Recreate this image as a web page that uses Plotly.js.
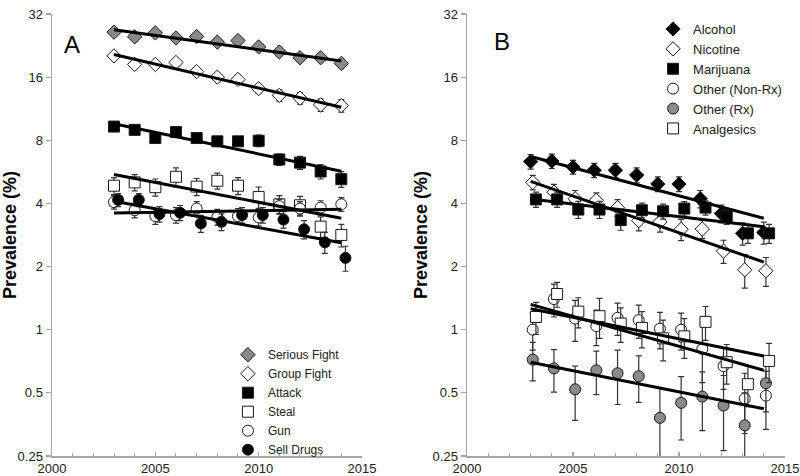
<!DOCTYPE html>
<html>
<head>
<meta charset="utf-8">
<script src="https://cdn.plot.ly/plotly-3.0.1.min.js"></script>
<style>html,body{margin:0;padding:0;background:#fff;}#chart{width:800px;height:476px;}</style>
</head>
<body>
<div id="chart"></div>
<script>
// ---------- data ----------
const years = [2003, 2004, 2005, 2006, 2007, 2008, 2009, 2010, 2011, 2012, 2013, 2014];
const trendYears = [2003, 2014];
const yTicks = [0.25, 0.5, 1, 2, 4, 8, 16, 32];
const yTickText = ['0.25', '0.5', '1', '2', '4', '8', '16', '32'];
const xTicks = [2000, 2005, 2010, 2015];

// Panel A
const namesA = ['Serious Fight', 'Group Fight', 'Attack', 'Steal', 'Gun', 'Sell Drugs'];
const seriousFight = [26.2, 24.9, 26.0, 24.6, 25.0, 23.5, 23.9, 22.3, 21.1, 19.8, 19.8, 18.6];
const groupFight   = [20.2, 18.4, 18.4, 18.8, 17.0, 16.0, 15.6, 14.1, 13.1, 12.7, 11.8, 11.7];
const attack       = [9.3, 8.97, 8.2, 8.75, 8.2, 7.91, 7.91, 7.96, 6.48, 6.26, 5.68, 5.22];
const steal        = [4.86, 5.04, 4.78, 5.36, 4.81, 5.13, 4.86, 4.29, 3.96, 3.92, 3.10, 2.83];
const gun          = [4.06, 3.71, 3.48, 3.52, 3.78, 3.45, 3.48, 3.43, 3.88, 3.78, 3.82, 3.96];
const sellDrugs    = [4.16, 4.16, 3.56, 3.61, 3.21, 3.27, 3.52, 3.52, 3.35, 3.01, 2.61, 2.20];
const seriousFightErr = [0.8, 0.8, 0.8, 0.8, 0.8, 0.8, 0.8, 0.8, 0.8, 0.8, 0.8, 0.8];
const groupFightErr   = [0.6, 0.6, 0.6, 0.7, 0.7, 0.7, 0.7, 0.7, 0.8, 0.8, 0.8, 0.8];
const attackErr       = [0.3, 0.3, 0.35, 0.35, 0.35, 0.35, 0.35, 0.5, 0.4, 0.45, 0.45, 0.45];
const stealErr        = [0.45, 0.45, 0.45, 0.55, 0.45, 0.45, 0.45, 0.5, 0.4, 0.4, 0.35, 0.35];
const gunErr          = [0.3, 0.3, 0.3, 0.3, 0.3, 0.3, 0.3, 0.3, 0.3, 0.3, 0.3, 0.3];
const sellDrugsErr    = [0.3, 0.3, 0.3, 0.3, 0.3, 0.3, 0.3, 0.3, 0.3, 0.3, 0.3, 0.3];
const seriousFightTrend = [26.9, 19.1];
const groupFightTrend   = [20.5, 11.5];
const attackTrend       = [9.6, 5.7];
const stealTrend        = [5.5, 3.4];
const gunTrend          = [3.6, 3.75];
const sellDrugsTrend    = [4.1, 2.6];

// Panel B
const namesB = ['Alcohol', 'Nicotine', 'Marijuana', 'Other (Non-Rx)', 'Other (Rx)', 'Analgesics'];
const alcohol    = [6.33, 6.37, 5.97, 5.76, 5.76, 5.46, 4.95, 4.95, 4.21, 3.58, 2.88, 2.91];
const nicotine   = [5.04, 4.53, 4.21, 4.14, 3.82, 3.31, 3.27, 3.01, 3.02, 2.37, 1.93, 1.91];
const marijuana  = [4.18, 4.18, 3.74, 3.74, 3.33, 3.71, 3.67, 3.78, 3.82, 3.48, 2.88, 2.88];
const otherNonRx = [1.0, 1.40, 1.13, 1.04, 1.14, 1.11, 1.01, 1.0, 0.81, 0.67, 0.47, 0.485];
const otherRx    = [0.72, 0.654, 0.52, 0.64, 0.62, 0.60, 0.38, 0.448, 0.48, 0.435, 0.35, 0.556];
const analgesics = [1.15, 1.48, 1.22, 1.16, 1.07, 1.02, 0.91, 0.93, 1.09, 0.70, 0.55, 0.71];
const alcoholErr    = [0.5, 0.5, 0.45, 0.45, 0.45, 0.45, 0.4, 0.4, 0.4, 0.35, 0.35, 0.35];
const nicotineErr   = [0.4, 0.4, 0.4, 0.35, 0.35, 0.35, 0.35, 0.35, 0.3, 0.3, 0.35, 0.3];
const marijuanaErr  = [0.35, 0.35, 0.35, 0.35, 0.35, 0.3, 0.3, 0.3, 0.3, 0.3, 0.3, 0.3];
const otherNonRxErr = [0.2, 0.25, 0.25, 0.2, 0.2, 0.2, 0.2, 0.2, 0.25, 0.15, 0.15, 0.15];
const otherRxErr    = [0.15, 0.15, 0.15, 0.15, 0.18, 0.15, 0.15, 0.15, 0.15, 0.17, 0.15, 0.15];
const analgesicsErr = [0.2, 0.2, 0.2, 0.25, 0.2, 0.2, 0.2, 0.2, 0.2, 0.15, 0.12, 0.15];
const alcoholTrend    = [6.7, 3.4];
const nicotineTrend   = [5.1, 2.1];
const marijuanaTrend  = [4.2, 3.1];
const otherNonRxTrend = [1.32, 0.64];
const otherRxTrend    = [0.70, 0.42];
const analgesicsTrend = [1.26, 0.75];

// ---------- styling ----------
const AXIS_GRAY = '#a6a6a6';
const FONT = 'Liberation Sans, Arial, sans-serif';

function markerStyle(kind) {
  const s = {
    grayDiamond:  {symbol: 'diamond', color: '#8a8a8a'},
    whiteDiamond: {symbol: 'diamond', color: '#ffffff'},
    blackDiamond: {symbol: 'diamond', color: '#000000'},
    blackSquare:  {symbol: 'square',  color: '#000000'},
    whiteSquare:  {symbol: 'square',  color: '#ffffff'},
    whiteCircle:  {symbol: 'circle',  color: '#ffffff'},
    blackCircle:  {symbol: 'circle',  color: '#000000'},
    grayCircle:   {symbol: 'circle',  color: '#8a8a8a'}
  }[kind];
  return {symbol: s.symbol, color: s.color, size: 11, line: {color: '#1a1a1a', width: 1}};
}

function series(name, vals, errs, kind, xa, ya, legendId, shift) {
  return {
    type: 'scatter', mode: 'markers', name: name,
    x: years.map(v => v + shift), y: vals,
    error_y: {type: 'data', array: errs, visible: true, color: '#333333', thickness: 1.2, width: 3},
    marker: markerStyle(kind),
    xaxis: xa, yaxis: ya, legend: legendId, showlegend: true, hoverinfo: 'x+y+name'
  };
}
function trend(vals, xa, ya) {
  return {
    type: 'scatter', mode: 'lines', x: trendYears, y: vals,
    line: {color: '#000000', width: 3}, xaxis: xa, yaxis: ya, showlegend: false, hoverinfo: 'skip'
  };
}

const traces = [
  series(namesA[0], seriousFight, seriousFightErr, 'grayDiamond', 'x', 'y', 'legend', 0),
  series(namesA[1], groupFight, groupFightErr, 'whiteDiamond', 'x', 'y', 'legend', 0),
  series(namesA[2], attack, attackErr, 'blackSquare', 'x', 'y', 'legend', 0),
  series(namesA[3], steal, stealErr, 'whiteSquare', 'x', 'y', 'legend', 0),
  series(namesA[4], gun, gunErr, 'whiteCircle', 'x', 'y', 'legend', 0),
  series(namesA[5], sellDrugs, sellDrugsErr, 'blackCircle', 'x', 'y', 'legend', 0.2),
  trend(seriousFightTrend, 'x', 'y'),
  trend(groupFightTrend, 'x', 'y'),
  trend(attackTrend, 'x', 'y'),
  trend(stealTrend, 'x', 'y'),
  trend(gunTrend, 'x', 'y'),
  trend(sellDrugsTrend, 'x', 'y'),

  series(namesB[0], alcohol, alcoholErr, 'blackDiamond', 'x2', 'y2', 'legend2', 0),
  series(namesB[1], nicotine, nicotineErr, 'whiteDiamond', 'x2', 'y2', 'legend2', 0.1),
  series(namesB[2], marijuana, marijuanaErr, 'blackSquare', 'x2', 'y2', 'legend2', 0.25),
  series(namesB[3], otherNonRx, otherNonRxErr, 'whiteCircle', 'x2', 'y2', 'legend2', 0.1),
  series(namesB[4], otherRx, otherRxErr, 'grayCircle', 'x2', 'y2', 'legend2', 0.1),
  series(namesB[5], analgesics, analgesicsErr, 'whiteSquare', 'x2', 'y2', 'legend2', 0.25),
  trend(alcoholTrend, 'x2', 'y2'),
  trend(nicotineTrend, 'x2', 'y2'),
  trend(marijuanaTrend, 'x2', 'y2'),
  trend(otherNonRxTrend, 'x2', 'y2'),
  trend(otherRxTrend, 'x2', 'y2'),
  trend(analgesicsTrend, 'x2', 'y2')
];

function xAxis(domain, anchor) {
  return {
    domain: domain, anchor: anchor, range: [2000, 2015],
    tickmode: 'array', tickvals: xTicks, ticktext: xTicks.map(String),
    showline: true, linecolor: AXIS_GRAY, linewidth: 1.5,
    ticks: 'inside', ticklen: 4, tickwidth: 1.2, tickcolor: AXIS_GRAY,
    minor: {dtick: 1, tick0: 2000, ticks: 'inside', ticklen: 3, tickwidth: 1, tickcolor: AXIS_GRAY},
    showgrid: false, zeroline: false,
    tickfont: {family: FONT, size: 13, color: '#222'}
  };
}
function yAxis(anchor, standoff) {
  return {
    anchor: anchor, type: 'log', range: [Math.log10(0.25), Math.log10(32)],
    tickmode: 'array', tickvals: yTicks, ticktext: yTickText,
    showline: true, linecolor: AXIS_GRAY, linewidth: 1.5,
    ticks: 'outside', ticklen: 5, tickwidth: 1.2, tickcolor: AXIS_GRAY,
    showgrid: false, zeroline: false,
    tickfont: {family: FONT, size: 13, color: '#222'},
    title: {text: '<b>Prevalence (%)</b>', font: {family: FONT, size: 18, color: '#000'}, standoff: standoff}
  };
}

const layout = {
  width: 800, height: 476,
  margin: {l: 52, r: 15, t: 14, b: 16},
  paper_bgcolor: '#fff', plot_bgcolor: '#fff',
  font: {family: FONT, color: '#222'},
  xaxis: xAxis([0, 0.4229], 'y'),
  yaxis: yAxis('x', 4),
  xaxis2: xAxis([0.5662, 1], 'y2'),
  yaxis2: yAxis('x2', 0),
  legend: {x: 0.24, y: 0.262, xanchor: 'left', yanchor: 'top', bgcolor: 'rgba(0,0,0,0)',
           font: {family: FONT, size: 12, color: '#222'}, itemwidth: 30, tracegroupgap: 0},
  legend2: {x: 0.82, y: 1.0, xanchor: 'left', yanchor: 'top', bgcolor: 'rgba(0,0,0,0)',
            font: {family: FONT, size: 13, color: '#222'}, itemwidth: 30, tracegroupgap: 0},
  annotations: [
    {text: 'A', xref: 'x domain', yref: 'y domain', x: 0.065, y: 0.93, xanchor: 'center', yanchor: 'middle',
     showarrow: false, font: {family: FONT, size: 24, color: '#000'}},
    {text: 'B', xref: 'x2 domain', yref: 'y2 domain', x: 0.11, y: 0.937, xanchor: 'center', yanchor: 'middle',
     showarrow: false, font: {family: FONT, size: 24, color: '#000'}}
  ],
  showlegend: true
};

Plotly.newPlot('chart', traces, layout, {staticPlot: true, displayModeBar: false});
</script>
</body>
</html>
